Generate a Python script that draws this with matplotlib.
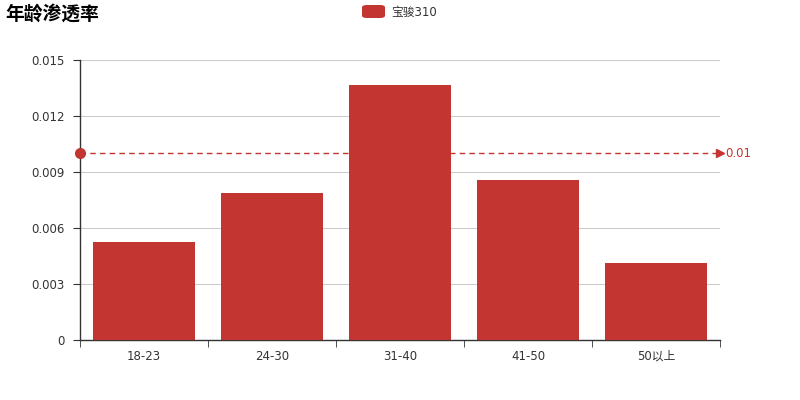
import matplotlib
matplotlib.use("Agg")
import matplotlib.pyplot as plt
from matplotlib.patches import FancyBboxPatch

plt.rcParams['font.family'] = ['DejaVu Sans', 'Noto Sans CJK SC']

categories = ["18-23", "24-30", "31-40", "41-50", "50以上"]
values = [0.00527, 0.00786, 0.01364, 0.00859, 0.00411]
yticks = [0, 0.003, 0.006, 0.009, 0.012, 0.015]
ytick_labels = ["0", "0.003", "0.006", "0.009", "0.012", "0.015"]
mark_value = 0.01
series_name = "宝骏310"
title = "年龄渗透率"

color = "#c23531"
fig = plt.figure(figsize=(8, 4), dpi=100)
ax = fig.add_axes([0.1, 0.15, 0.8, 0.7])
x = list(range(len(categories)))
ax.bar(x, values, width=0.8, color=color, zorder=3)
ax.set_xlim(-0.5, len(categories) - 0.5)
ax.set_ylim(0, 0.015)
ax.set_yticks(yticks)
ax.set_yticklabels(ytick_labels)
ax.set_xticks(x)
ax.set_xticklabels(categories)
ax.set_xticks([i - 0.5 for i in range(len(categories) + 1)], minor=True)
ax.tick_params(axis='x', which='major', length=0, pad=7, labelsize=8.5, colors='#333333')
ax.tick_params(axis='x', which='minor', length=5, color='#333333', direction='out')
ax.tick_params(axis='y', length=5, color='#333333', labelsize=8.5, labelcolor='#333333', pad=6)
ax.grid(axis='y', color='#cccccc', linewidth=0.8, zorder=0)
for s in ['top', 'right']:
    ax.spines[s].set_visible(False)
for s in ['left', 'bottom']:
    ax.spines[s].set_color('#333333')
    ax.spines[s].set_linewidth(1)

# mark line
ax.plot([-0.5, len(categories) - 0.5], [mark_value, mark_value], linestyle=(0, (4, 3)),
        color=color, linewidth=1, zorder=4, clip_on=False)
ax.plot([-0.5], [mark_value], marker='o', markersize=7, color=color, zorder=5, clip_on=False)
ax.plot([len(categories) - 0.5], [mark_value], marker='>', markersize=6, color=color,
        zorder=5, clip_on=False)
ax.annotate(f"{mark_value:g}", xy=(len(categories) - 0.5, mark_value), xytext=(4, 0),
            textcoords='offset points', va='center', ha='left', color=color, fontsize=8.5)

fig.text(5 / 800, 1 - 14 / 400, title, fontsize=13.5, fontweight='bold', va='center', ha='left',
         color='#000000', family=['Noto Sans CJK SC', 'DejaVu Sans'])
# legend
leg_patch = FancyBboxPatch((362 / 800, 1 - 18 / 400), 23 / 800, 13 / 400,
                           boxstyle="round,pad=0,rounding_size=0.006", transform=fig.transFigure,
                           facecolor=color, edgecolor='none')
fig.patches.append(leg_patch)
fig.text(391 / 800, 1 - 12 / 400, series_name, fontsize=8.5, va='center', ha='left', color='#333333')

fig.savefig("out.png", dpi=100)
